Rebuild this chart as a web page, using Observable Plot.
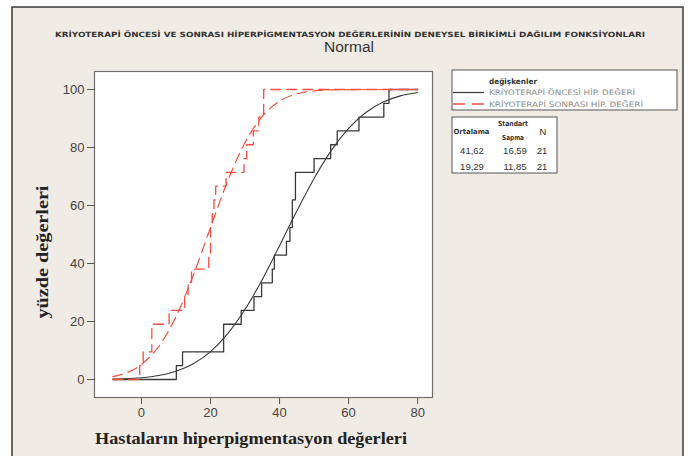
<!DOCTYPE html>
<html><head><meta charset="utf-8">
<script src="https://cdn.jsdelivr.net/npm/d3@7"></script>
<script src="https://cdn.jsdelivr.net/npm/@observablehq/plot@0.6"></script>
<style>
html,body{margin:0;padding:0;background:#fff;}
#chart{width:691px;height:456px;overflow:hidden;}
#chart svg{display:block;background:#fff;}
</style></head><body><div id="chart"></div>
<script>
// ---- data ----
const seriesNames = ["KRİYOTERAPİ ÖNCESİ HİP. DEĞERİ", "KRİYOTERAPİ SONRASI HİP. DEĞERİ"];
const onceValues = [10.1, 11.9, 23.8, 23.8, 28.9, 32.6, 34.8, 37.9, 38.5, 42.0, 43.0,
                    43.7, 43.7, 44.6, 44.6, 50.0, 54.8, 56.7, 63.0, 70.2, 71.7];
const sonraValues = [-0.5, 0.5, 3.0, 3.0, 8.0, 12.5, 13.5, 14.5, 19.5, 20.0, 20.0,
                     20.5, 21.0, 21.5, 24.5, 29.7, 30.5, 32.4, 34.0, 35.4, 35.4];
const means = [41.62, 19.29];
const sds = [16.59, 11.85];
const ns = [21, 21];
const fitX = [-8.3, -5, 0, 5, 10, 15, 20, 25, 30, 35, 40, 45, 50, 55, 60, 65, 70, 75, 80];
const onceFitPct = [0.13, 0.25, 0.61, 1.37, 2.83, 5.42, 9.63, 15.82, 24.20, 34.50, 46.11,
                    58.08, 69.32, 79.02, 86.61, 92.06, 95.65, 97.79, 98.96];
const sonraFitPct = [0.99, 2.02, 5.18, 11.39, 21.65, 35.87, 52.39, 68.51, 81.70, 90.75, 95.98,
                     98.50, 99.52, 99.87, 99.97, 99.99, 100, 100, 100];
const xTicks = [0, 20, 40, 60, 80];
const yTicks = [0, 20, 40, 60, 80, 100];
const xRange = [-8.3, 80];

const titleText = "KRİYOTERAPİ ÖNCESİ VE SONRASI HİPERPİGMENTASYON DEĞERLERİNİN DENEYSEL BİRİKİMLİ DAĞILIM FONKSİYONLARI";
const subtitleText = "Normal";
const xLabel = "Hastaların hiperpigmentasyon değerleri";
const yLabel = "yüzde değerleri";
const legendTitle = "değişkenler";

// ---- derived tables ----
function ecdf(values) {
  const n = values.length;
  const pts = [{x: xRange[0], y: 0}];
  values.forEach((v, i) => pts.push({x: v, y: (i + 1) / n * 100}));
  pts.push({x: xRange[1], y: 100});
  return pts;
}
const fitTable = (ys) => fitX.map((x, i) => ({x, y: ys[i]}));

const BLACK = "#3a3a3a";
const RED = "#f0503f";
const DASH = "10,6";

const plot = Plot.plot({
  width: 691, height: 456,
  marginLeft: 94, marginRight: 259, marginTop: 71, marginBottom: 59,
  style: {background: "transparent", fontFamily: "'Liberation Sans', Arial, sans-serif", fontSize: "13px", color: "#444"},
  x: {domain: [-13.6, 84.3]},
  y: {domain: [-6.2, 106.2]},
  marks: [
    Plot.frame({fill: "white", stroke: "none"}),
    Plot.axisX({ticks: xTicks, tickSize: 7, tickPadding: 3, label: null, stroke: "#555"}),
    Plot.axisY({ticks: yTicks, tickSize: 7, tickPadding: 3, label: null, stroke: "#555"}),
    Plot.line(fitTable(onceFitPct), {x: "x", y: "y", curve: "monotone-x", stroke: BLACK, strokeWidth: 1.1}),
    Plot.line(ecdf(onceValues), {x: "x", y: "y", curve: "step-after", stroke: BLACK, strokeWidth: 1.3}),
    Plot.line(fitTable(sonraFitPct), {x: "x", y: "y", curve: "monotone-x", stroke: RED, strokeWidth: 1.2, strokeDasharray: DASH}),
    Plot.line(ecdf(sonraValues), {x: "x", y: "y", curve: "step-after", stroke: RED, strokeWidth: 1.3, strokeDasharray: DASH}),
    Plot.frame({stroke: "#707070", strokeWidth: 1.2})
  ]
});
document.getElementById("chart").appendChild(plot);

const svg = d3.select(plot);
svg.insert("rect", ":first-child")
  .attr("x", 12).attr("y", 7).attr("width", 671).attr("height", 470)
  .attr("fill", "#f0ebe4").attr("stroke", "#3a3a3a").attr("stroke-width", 1.5);

const g = svg.append("g");
const SANS = "'DejaVu Sans Condensed', 'DejaVu Sans', sans-serif";
const ARIAL = "'Liberation Sans', Arial, sans-serif";
const SERIF = "'Liberation Serif', 'DejaVu Serif', serif";

function txt(s, x, y, opts) {
  const t = g.append("text").attr("x", x).attr("y", y).text(s)
    .attr("font-family", opts.family || SANS)
    .attr("font-size", opts.size || 8)
    .attr("font-weight", opts.weight || "normal")
    .attr("fill", opts.fill || "#333")
    .attr("text-anchor", opts.anchor || "start");
  if (opts.len) t.attr("textLength", opts.len).attr("lengthAdjust", "spacingAndGlyphs");
  if (opts.transform) t.attr("transform", opts.transform);
  return t;
}

// titles
txt(titleText, 350, 36.5, {size: 7.2, weight: "bold", anchor: "middle", len: 590, fill: "#333"});
txt(subtitleText, 349, 52, {size: 14, family: ARIAL, anchor: "middle", len: 50, fill: "#333"});

// axis labels
txt(xLabel, 251, 444, {size: 17, family: SERIF, weight: "bold", anchor: "middle", len: 312, fill: "#222"});
txt(yLabel, 0, 0, {size: 17, family: SERIF, weight: "bold", anchor: "middle", len: 133, fill: "#222",
  transform: "translate(48,252) rotate(-90)"});

// legend box
g.append("rect").attr("x", 452).attr("y", 70).attr("width", 225).attr("height", 40)
  .attr("fill", "white").attr("stroke", "#555").attr("stroke-width", 1);
txt(legendTitle, 489, 83.5, {size: 7.5, weight: "bold", len: 48, fill: "#333"});
g.append("line").attr("x1", 453).attr("x2", 484).attr("y1", 92.5).attr("y2", 92.5)
  .attr("stroke", BLACK).attr("stroke-width", 1.2);
txt(seriesNames[0], 489, 95.3, {size: 7.5, len: 146, fill: "#8c8c8c"});
g.append("line").attr("x1", 453).attr("x2", 484).attr("y1", 104).attr("y2", 104)
  .attr("stroke", RED).attr("stroke-width", 1.3).attr("stroke-dasharray", "12,7");
txt(seriesNames[1], 489, 106.8, {size: 7.5, len: 154, fill: "#8c8c8c"});

// stats table
g.append("rect").attr("x", 452).attr("y", 117).attr("width", 105).attr("height", 56)
  .attr("fill", "white").attr("stroke", "#555").attr("stroke-width", 1);
txt("Ortalama", 471.5, 133.5, {size: 7, weight: "bold", anchor: "middle", len: 36});
txt("Standart", 513, 125.5, {size: 7, weight: "bold", anchor: "middle", len: 30});
txt("Sapma", 513, 140, {size: 7, weight: "bold", anchor: "middle", len: 22});
txt("N", 543, 134.5, {size: 9.5, family: ARIAL, anchor: "middle"});
const fmt = (v) => v.toFixed(2).replace(".", ",");
const rowY = [153.5, 170];
means.forEach((m, i) => {
  txt(fmt(m), 472, rowY[i], {size: 9.5, family: ARIAL, anchor: "middle", fill: "#333"});
  txt(fmt(sds[i]), 515, rowY[i], {size: 9.5, family: ARIAL, anchor: "middle", fill: "#333"});
  txt(String(ns[i]), 542, rowY[i], {size: 9.5, family: ARIAL, anchor: "middle", fill: "#333"});
});
</script></body></html>
